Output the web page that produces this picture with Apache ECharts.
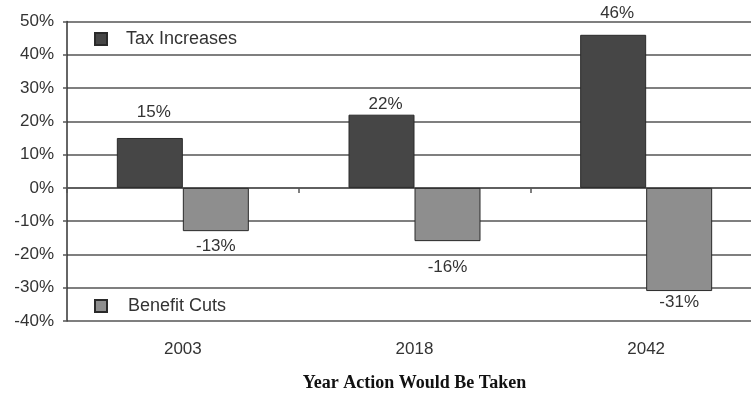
<!DOCTYPE html>
<html><head><meta charset="utf-8">
<script src="https://cdn.jsdelivr.net/npm/echarts@6/dist/echarts.min.js"></script>
<style>html,body{margin:0;padding:0;background:#fff}#c{width:751px;height:395px}</style>
</head><body><div id="c"></div>
<script>
const categories = ['2003', '2018', '2042'];
const taxIncreases = [15, 22, 46];
const benefitCuts = [-13, -16, -31];
const yTicks = [-40, -30, -20, -10, 0, 10, 20, 30, 40, 50];

// label placement (styling only)
const taxLabelDist = [17, 2, 13];
const cutLabelDist = [7, 18, 3];

const chart = echarts.init(document.getElementById('c'));
const txt = '#333';
const font = 'Liberation Sans, Arial, sans-serif';
const lbl = { fontFamily: font, fontSize: 17, color: txt, formatter: p => p.value + '%' };
chart.setOption({
  animation: false,
  backgroundColor: '#fff',
  grid: { left: 67, right: -11, top: 21.5, bottom: 74, outerBoundsMode: 'none', containLabel: false },
  legend: [
    { data: ['Tax Increases'], icon: 'rect', left: 89, top: 25, itemWidth: 12, itemHeight: 12,
      textStyle: { fontFamily: font, fontSize: 18, color: txt, padding: [0, 0, 0, 14] } },
    { data: ['Benefit Cuts'], icon: 'rect', left: 89, top: 292, itemWidth: 12, itemHeight: 12,
      textStyle: { fontFamily: font, fontSize: 18, color: txt, padding: [0, 0, 0, 16] } }
  ],
  xAxis: [
    { type: 'category', data: categories, position: 'bottom',
      axisLine: { onZero: false, show: false }, axisTick: { show: false },
      axisLabel: { fontFamily: font, fontSize: 17, color: txt, margin: 20 },
      name: 'Year Action Would Be Taken', nameLocation: 'middle', nameGap: 53,
      nameTextStyle: { fontFamily: 'Liberation Serif, Times New Roman, serif', fontWeight: 'bold', fontSize: 18, color: '#111' } },
    { type: 'category', data: categories, position: 'bottom',
      axisLine: { onZero: true, lineStyle: { color: '#555', width: 1.5 } },
      axisTick: { show: true, length: 5, lineStyle: { color: '#555', width: 1.5 } },
      axisLabel: { show: false } }
  ],
  yAxis: {
    type: 'value', min: -40, max: 50, interval: 10,
    axisLine: { show: true, lineStyle: { color: '#333', width: 1.5 } },
    axisTick: { show: true, length: 4, lineStyle: { color: '#555', width: 1.5 } },
    splitLine: { lineStyle: { color: '#555', width: 1.5 } },
    axisLabel: { fontFamily: font, fontSize: 17, color: txt, margin: 13,
      formatter: v => yTicks.includes(v) ? v + '%' : '' }
  },
  series: [
    { name: 'Tax Increases', type: 'bar', barWidth: 66, barGap: '0%',
      data: taxIncreases.map((v, i) => ({ value: v, label: { distance: taxLabelDist[i], offset: [4, 0] } })),
      itemStyle: { color: '#464646', borderColor: '#2a2a2a', borderWidth: 1 },
      label: Object.assign({ show: true, position: 'top' }, lbl) },
    { name: 'Benefit Cuts', type: 'bar', barWidth: 66, barGap: '0%',
      data: benefitCuts.map((v, i) => ({ value: v, label: { distance: cutLabelDist[i] } })),
      itemStyle: { color: '#8e8e8e', borderColor: '#2a2a2a', borderWidth: 1 },
      label: Object.assign({ show: true, position: 'bottom' }, lbl) }
  ]
});
</script></body></html>
